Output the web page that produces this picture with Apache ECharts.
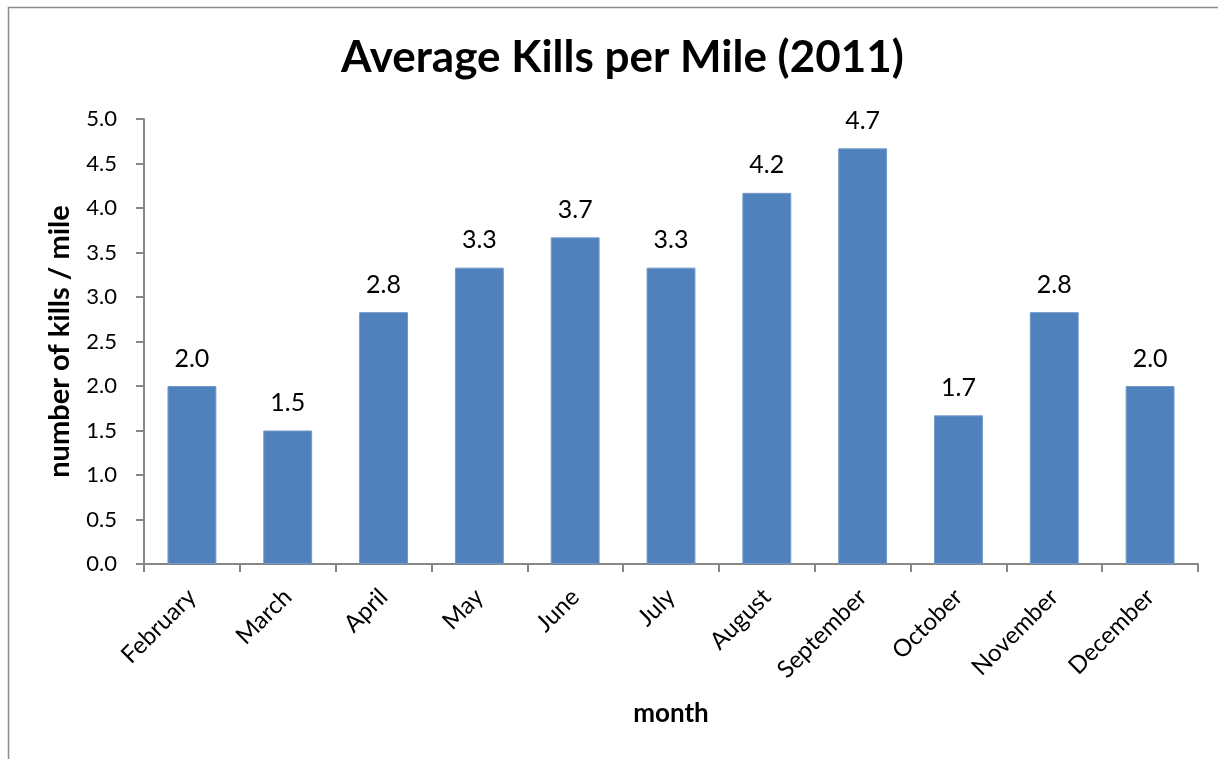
<!DOCTYPE html>
<html>
<head>
<meta charset="utf-8">
<script src="https://cdn.jsdelivr.net/npm/echarts@6/dist/echarts.min.js"></script>
<style>
  html, body { margin: 0; padding: 0; background: #fff; }
  #chart { width: 1218px; height: 759px; }
</style>
</head>
<body>
<div id="chart"></div>
<script>
// Monthly average kills per mile, 2011
const months = ['February', 'March', 'April', 'May', 'June', 'July',
                'August', 'September', 'October', 'November', 'December'];
const killsPerMile = [2.0, 1.5, 2.83, 3.33, 3.67, 3.33, 4.17, 4.67, 1.67, 2.83, 2.0];
const yTicks = [0, 0.5, 1, 1.5, 2, 2.5, 3, 3.5, 4, 4.5, 5];

const FONT = 'Lato, "Noto Sans", sans-serif';

const chart = echarts.init(document.getElementById('chart'), null, { renderer: 'canvas' });
chart.setOption({
  animation: false,
  textStyle: { fontFamily: FONT },
  title: {
    text: 'Average Kills per Mile (2011)',
    left: 336,
    top: 31,
    textStyle: { fontFamily: FONT, fontSize: 44, fontWeight: 'bold', color: '#000' }
  },
  graphic: [{
    type: 'rect',
    shape: { x: 8.5, y: 7.5, width: 1230, height: 770 },
    style: { fill: 'none', stroke: '#8c8c8c', lineWidth: 1.5 },
    silent: true
  }],
  grid: { left: 144, right: 20, top: 119, bottom: 195, containLabel: false },
  xAxis: {
    type: 'category',
    data: months,
    name: 'month',
    nameLocation: 'middle',
    nameGap: 137,
    nameTextStyle: { fontFamily: FONT, fontSize: 26, fontWeight: 'bold', color: '#000' },
    axisLine: { lineStyle: { color: '#868686', width: 2 } },
    axisTick: { show: true, length: 8, lineStyle: { color: '#868686', width: 2 } },
    axisLabel: { rotate: 45, fontSize: 24, color: '#000', margin: 29, fontFamily: FONT, interval: 0 }
  },
  yAxis: {
    type: 'value',
    min: yTicks[0],
    max: yTicks[yTicks.length - 1],
    interval: 0.5,
    name: 'number of kills / mile',
    nameLocation: 'middle',
    nameGap: 70,
    nameRotate: 90,
    nameTextStyle: { fontFamily: FONT, fontSize: 29, fontWeight: 'bold', color: '#000' },
    splitLine: { show: false },
    axisLine: { show: true, lineStyle: { color: '#868686', width: 2 } },
    axisTick: { show: true, length: 8, lineStyle: { color: '#868686', width: 2 } },
    axisLabel: { fontSize: 22, color: '#000', margin: 27, fontFamily: FONT,
                 formatter: v => v.toFixed(1) }
  },
  series: [{
    type: 'bar',
    data: killsPerMile,
    barWidth: '51%',
    itemStyle: { color: '#4F81BD', borderColor: '#7399c8', borderWidth: 1 },
    label: {
      show: true,
      position: 'top',
      distance: 15,
      fontSize: 25,
      color: '#000',
      fontFamily: FONT,
      formatter: p => p.value.toFixed(1)
    }
  }]
});
</script>
</body>
</html>
